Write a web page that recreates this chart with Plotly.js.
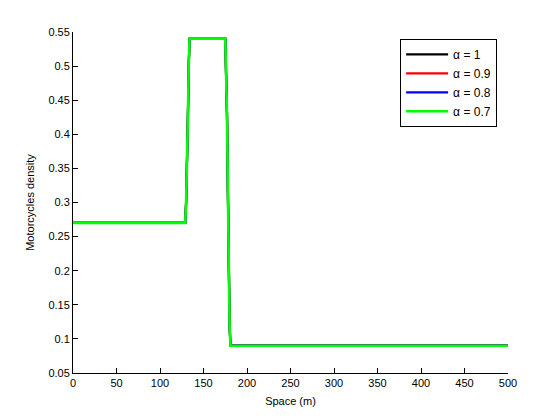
<!DOCTYPE html>
<html>
<head>
<meta charset="utf-8">
<script src="https://cdn.plot.ly/plotly-3.0.1.min.js"></script>
<style>
  html, body { margin: 0; padding: 0; background: #fff; }
  #plot { width: 560px; height: 420px; }
</style>
</head>
<body>
<div id="plot"></div>
<script>
// space positions (m) and densities; the four curves overlap
const space = [0, 129, 130, 131, 132, 133, 134, 175, 176, 177, 178, 179, 180, 181, 500];
const densityA1 = [0.27, 0.27, 0.30, 0.35, 0.42, 0.50, 0.54, 0.54, 0.50, 0.43, 0.32, 0.20, 0.12, 0.09, 0.09];
const densityA09 = [0.27, 0.27, 0.30, 0.35, 0.42, 0.50, 0.54, 0.54, 0.50, 0.43, 0.32, 0.20, 0.12, 0.09, 0.09];
const densityA08 = [0.27, 0.27, 0.30, 0.35, 0.42, 0.50, 0.54, 0.54, 0.50, 0.43, 0.32, 0.20, 0.12, 0.09, 0.09];
const densityA07 = [0.27, 0.27, 0.30, 0.35, 0.42, 0.50, 0.54, 0.54, 0.50, 0.43, 0.32, 0.20, 0.12, 0.09, 0.09];

const seriesNames = ['α = 1', 'α = 0.9', 'α = 0.8', 'α = 0.7'];
const seriesColors = ['#000000', '#ff0000', '#0000ff', '#00ff00'];
const seriesValues = [densityA1, densityA09, densityA08, densityA07];

// last curve sits on top; the ones under it are a touch thinner so no dark fringe shows
const traces = seriesValues.map((vals, i) => ({
  x: space,
  y: vals,
  type: 'scatter',
  mode: 'lines',
  name: seriesNames[i],
  line: { color: seriesColors[i], width: i === 3 ? 2.6 : 2.2 }
}));

const font = { family: 'Liberation Sans, Arial, sans-serif', size: 11, color: '#000' };

const layout = {
  width: 560,
  height: 420,
  margin: { l: 73, r: 52, t: 32, b: 47, pad: 0 },
  paper_bgcolor: '#fff',
  plot_bgcolor: '#fff',
  font: font,
  showlegend: true,
  legend: {
    x: 0.752, y: 0.98, xanchor: 'left', yanchor: 'top',
    bordercolor: '#000', borderwidth: 1, bgcolor: '#fff',
    itemwidth: 42,
    font: { family: font.family, size: 12, color: '#000' }
  },
  xaxis: {
    range: [0, 500], dtick: 50, tick0: 0,
    showgrid: false, zeroline: false,
    showline: true, linecolor: '#000', linewidth: 1, mirror: false,
    ticks: 'inside', ticklen: 5, tickcolor: '#000',
    tickfont: font,
    title: { text: 'Space (m)', font: font, standoff: 9 }
  },
  yaxis: {
    range: [0.05, 0.55], dtick: 0.05, tick0: 0.05,
    showgrid: false, zeroline: false,
    showline: true, linecolor: '#000', linewidth: 1, mirror: false,
    ticks: 'inside', ticklen: 5, tickcolor: '#000',
    tickfont: font,
    title: { text: 'Motorcycles density', font: font, standoff: 11 }
  }
};

Plotly.newPlot('plot', traces, layout, { displayModeBar: false, staticPlot: true });
</script>
</body>
</html>
